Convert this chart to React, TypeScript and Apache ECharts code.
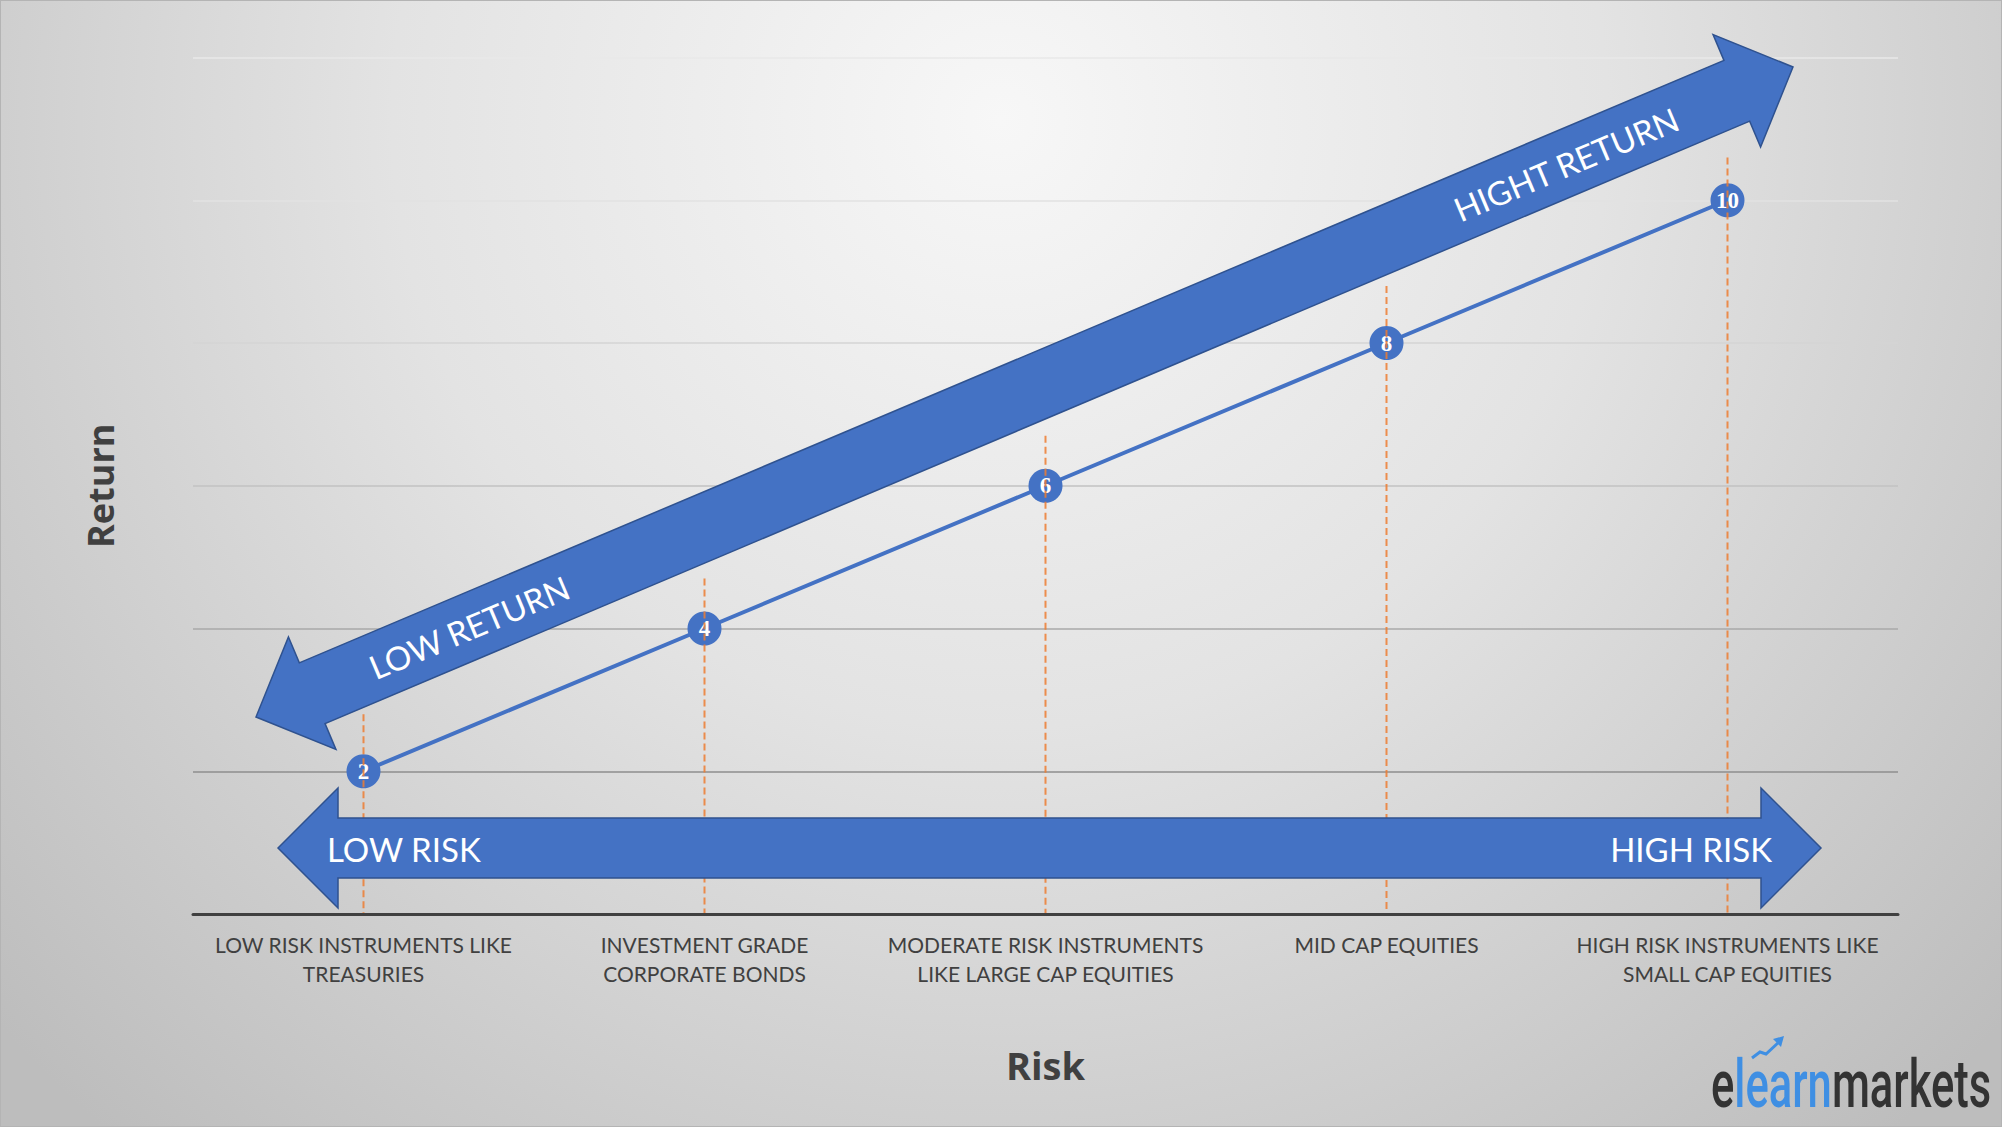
import React, { useEffect, useRef } from "react";
import * as echarts from "echarts";

// ---- data ----
const categories = [
  "LOW RISK INSTRUMENTS LIKE\nTREASURIES",
  "INVESTMENT GRADE\nCORPORATE BONDS",
  "MODERATE RISK INSTRUMENTS\nLIKE LARGE CAP EQUITIES",
  "MID CAP EQUITIES",
  "HIGH RISK INSTRUMENTS LIKE\nSMALL CAP EQUITIES",
];
const returns = [2, 4, 6, 8, 10];
const guideTops = [2.8, 4.7, 6.7, 8.8, 10.6];
const yMin = 0;
const yMax = 12;
const yInterval = 2;
const gridColors = ["#404040", "#8e8e8e", "#a9a9a9", "#c2c2c2", "#d4d4d4", "#e2e2e2", "#e8e8e8"];

const BLUE = "#4472C4";
const BLUE_EDGE = "#2F528F";

function doubleArrow(x1: number, y1: number, x2: number, y2: number, hl: number, hw: number, sw: number) {
  const dx = x2 - x1, dy = y2 - y1, L = Math.hypot(dx, dy);
  const ux = dx / L, uy = dy / L, nx = -uy, ny = ux;
  const p = (bx: number, by: number, a: number, b: number) => [bx + ux * a + nx * b, by + uy * a + ny * b];
  return [
    [x1, y1], p(x1, y1, hl, -hw), p(x1, y1, hl, -sw), p(x2, y2, -hl, -sw), p(x2, y2, -hl, -hw),
    [x2, y2], p(x2, y2, -hl, hw), p(x2, y2, -hl, sw), p(x1, y1, hl, sw), p(x1, y1, hl, hw),
  ];
}

export default function App() {
  const ref = useRef<HTMLDivElement>(null);
  useEffect(() => {
    if (!ref.current) return;
    const chart = echarts.init(ref.current, undefined, { renderer: "svg" });
    const diagAngle = Math.atan2(717 - 67, 1793 - 256);
    const arrowText = { fill: "#ffffff", fontFamily: "Lato", fontSize: 33 };
    const logoDy = -5;
    chart.setOption({
      animation: false,
      graphic: [
        {
          type: "rect", z: -100, silent: true,
          shape: { x: 0, y: 0, width: 2002, height: 1127 },
          style: {
            fill: { type: "radial", x: 1000, y: 120, r: 1350, global: true,
              colorStops: [ { offset: 0, color: "#f7f7f7" }, { offset: 0.45, color: "#e3e3e3" }, { offset: 1, color: "#bdbdbd" } ] },
            stroke: "#b4b4b4", lineWidth: 2,
          },
        },
        {
          type: "polygon", z: 50,
          shape: { points: doubleArrow(256, 717, 1793, 67, 61, 61, 33) },
          style: { fill: BLUE, stroke: BLUE_EDGE, lineWidth: 1.5 },
        },
        {
          type: "polygon", z: 50,
          shape: { points: doubleArrow(278, 848, 1821, 848, 60, 60, 30) },
          style: { fill: BLUE, stroke: BLUE_EDGE, lineWidth: 1.5 },
        },
        { type: "text", z: 51, x: 469, y: 627, rotation: diagAngle,
          style: { ...arrowText, text: "LOW RETURN", align: "center", verticalAlign: "middle", textAlign: "center", textVerticalAlign: "middle" } },
        { type: "text", z: 51, x: 1566, y: 164, rotation: diagAngle,
          style: { ...arrowText, text: "HIGHT RETURN", align: "center", verticalAlign: "middle", textAlign: "center", textVerticalAlign: "middle" } },
        { type: "text", z: 51, x: 327, y: 849,
          style: { ...arrowText, text: "LOW RISK", align: "left", verticalAlign: "middle", textAlign: "left", textVerticalAlign: "middle" } },
        { type: "text", z: 51, x: 1772, y: 849,
          style: { ...arrowText, text: "HIGH RISK", align: "right", verticalAlign: "middle", textAlign: "right", textVerticalAlign: "middle" } },
        // logo
        { type: "text", z: 51, x: 1711, y: 1090 + logoDy, scaleX: 0.66,
          style: {
            text: "{a|e}{b|learn}{a|markets}", align: "left", verticalAlign: "middle", textAlign: "left", textVerticalAlign: "middle",
            rich: {
              a: { fill: "#333333", color: "#333333", fontFamily: "Roboto", fontSize: 66, fontWeight: 500, lineHeight: 66 },
              b: { fill: "#3f8fe3", color: "#3f8fe3", fontFamily: "Roboto", fontSize: 66, fontWeight: 500, lineHeight: 66 },
            },
          } },
        { type: "polyline", z: 51,
          shape: { points: [[1752, 1063 + logoDy], [1760, 1057 + logoDy], [1766, 1059 + logoDy], [1779, 1047 + logoDy]] },
          style: { stroke: "#3f8fe3", lineWidth: 3, fill: null } },
        { type: "polygon", z: 51,
          shape: { points: [[1784, 1041 + logoDy], [1773, 1044 + logoDy], [1781, 1052 + logoDy]] },
          style: { fill: "#3f8fe3" } },
      ],
      grid: { left: 193, right: 104, top: 57.5, bottom: 213, containLabel: false },
      xAxis: {
        type: "category",
        data: categories,
        boundaryGap: true,
        name: "Risk",
        nameLocation: "middle",
        nameGap: 132,
        nameTextStyle: { color: "#404040", fontFamily: "Open Sans", fontWeight: "bold", fontSize: 38 },
        axisLine: { lineStyle: { color: "#404040", width: 3 } },
        axisTick: { show: false },
        axisLabel: { color: "#404040", fontFamily: "Lato", fontSize: 21, lineHeight: 29, margin: 16, interval: 0 },
        splitLine: { show: false },
        z: 5,
      },
      yAxis: {
        type: "value",
        min: yMin, max: yMax, interval: yInterval,
        name: "Return",
        nameLocation: "middle",
        nameGap: 75,
        nameRotate: 90,
        nameTextStyle: { color: "#404040", fontFamily: "Open Sans", fontWeight: "bold", fontSize: 36 },
        axisLine: { show: false },
        axisTick: { show: false },
        axisLabel: { show: false },
        splitLine: { show: true, lineStyle: { color: gridColors, width: 1.5 } },
      },
      series: [
        {
          type: "line",
          data: returns,
          z: 2,
          symbol: "circle",
          symbolSize: 34,
          lineStyle: { color: BLUE, width: 4 },
          itemStyle: { color: BLUE },
          label: {
            show: true, position: "inside", color: "#ffffff",
            fontFamily: "Liberation Serif", fontWeight: "bold", fontSize: 23,
          },
        },
        {
          type: "custom",
          z: 3,
          silent: true,
          data: guideTops.map((t, i) => [i, t]),
          renderItem: (params: any, api: any) => {
            const i = api.value(0);
            const top = api.coord([i, api.value(1)]);
            const bottom = api.coord([i, 0]);
            return {
              type: "line",
              shape: { x1: top[0], y1: top[1], x2: bottom[0], y2: bottom[1] },
              style: { stroke: "#ED7D31", lineWidth: 2, lineDash: [7, 4], opacity: 0.85 },
            };
          },
        },
      ],
    });
    return () => chart.dispose();
  }, []);
  return <div ref={ref} style={{ position: "absolute", left: 0, top: 0, width: 2002, height: 1127 }} />;
}
